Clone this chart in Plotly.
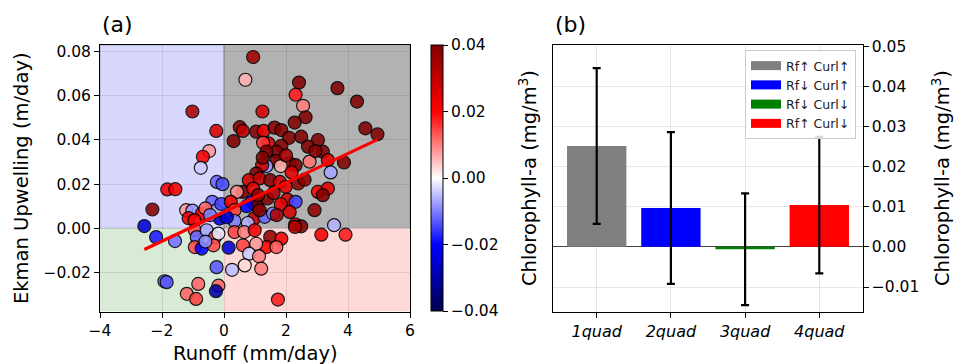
import plotly.graph_objects as go
import numpy as np

# ---------------- data: panel (a) ----------------
runoff = [
    -1.02, -0.25, -0.48, -0.68, -0.75, -0.23, -0.05, -1.83, -1.57, -2.31, -2.57, -0.38,
    -1.22, -1.02, -1.14, -0.71, -0.95, -0.14, -0.25, -0.09, -0.60, -0.45,
    -2.19, -1.58, -0.94, -0.88, -0.56, -0.29, -0.18, -0.94, -0.72, -0.34, -0.24, -1.92,
    -1.85, -0.83, -1.20, -0.90, -0.18, -0.26, -0.60,
    0.94, 0.69, 2.42, 2.31, 2.55, 2.63, 3.66, 4.29, 4.56, 4.95, 1.24, 2.28, 0.51, 0.61,
    0.31, 1.04, 1.28, 1.63, 1.85, 1.43, 1.26, 2.10, 2.49, 3.03, 2.71, 3.19, 1.85, 1.69,
    1.37, 2.76, 3.35, 3.87, 3.44, 1.69, 2.12, 2.31, 1.37, 1.23, 1.83, 2.18, 1.04, 0.80,
    1.15, 1.49, 1.80, 2.39, 1.99, 0.61, 0.94, 0.42, 3.03, 3.35, 3.19, 1.40, 2.04, 2.31,
    1.83, 0.90, 1.06, 0.22, 0.34, 2.12, 2.92, 0.97, 1.31, 1.58, 1.15, 0.77, 0.34, 2.30,
    2.49, 3.55, 0.09, 0.73, 1.60, 2.60, 2.00, 1.10, 1.70, 1.25, 2.95,
    0.34, 0.65, 0.99, 1.49, 1.85, 3.14, 3.92, 0.15, 0.61, 1.37, 1.69, 1.04, 0.81, 1.13,
    0.67, 0.26, 1.20, 1.74, 2.29,
]
ekman = [
    0.0529, 0.0441, 0.0350, 0.0324, 0.0274, 0.0210, 0.0200, 0.0176, 0.0177, 0.0085, 0.0010, 0.0120,
    0.0082, 0.0080, 0.0046, 0.0067, 0.0036, 0.0044, 0.0080, 0.0110, 0.0090, 0.0060,
    -0.0040, -0.0058, -0.0009, -0.0040, -0.0009, -0.0040, -0.0024, -0.0085, -0.0092, -0.0077, -0.0176, -0.0240,
    -0.0244, -0.0252, -0.0297, -0.0320, -0.0260, -0.0285, -0.0060,
    0.0776, 0.0673, 0.0660, 0.0605, 0.0555, 0.0503, 0.0635, 0.0574, 0.0453, 0.0426, 0.0529, 0.0479, 0.0458, 0.0441,
    0.0395, 0.0438, 0.0441, 0.0456, 0.0445, 0.0385, 0.0388, 0.0410, 0.0415, 0.0400, 0.0370, 0.0347, 0.0374, 0.0347,
    0.0347, 0.0302, 0.0309, 0.0298, 0.0253, 0.0305, 0.0294, 0.0286, 0.0282, 0.0286, 0.0282, 0.0253, 0.0248, 0.0218,
    0.0226, 0.0218, 0.0210, 0.0203, 0.0188, 0.0165, 0.0180, 0.0165, 0.0165, 0.0180, 0.0150, 0.0135, 0.0130, 0.0120,
    0.0109, 0.0120, 0.0100, 0.0120, 0.0082, 0.0074, 0.0082, 0.0044, 0.0052, 0.0067, 0.0082, 0.0024, 0.0033, 0.0018,
    0.0009, 0.0014, 0.0050, 0.0100, 0.0160, 0.0220, 0.0330, 0.0150, 0.0060, 0.0320, 0.0350,
    -0.0017, -0.0017, -0.0009, -0.0039, -0.0047, -0.0029, -0.0029, -0.0088, -0.0077, -0.0085, -0.0085, -0.0070, -0.0115, -0.0127,
    -0.0168, -0.0188, -0.0183, -0.0323, 0.0006,
]
chl_anom = [
    0.033, 0.026, 0.008, 0.021, -0.004, -0.012, -0.014, 0.022, 0.022, 0.039, -0.024, -0.012,
    0.008, -0.008, 0.022, 0.020, 0.020, -0.025, -0.006, -0.015, 0.012, -0.010,
    -0.018, -0.011, 0.014, -0.012, -0.007, 0.014, -0.002, 0.014, -0.020, 0.014, -0.013, -0.012,
    -0.013, 0.012, 0.012, 0.015, 0.012, -0.030, -0.009,
    0.034, 0.006, 0.039, 0.018, 0.010, 0.040, 0.040, 0.040, 0.040, 0.040, 0.027, 0.040, 0.038, 0.030,
    0.040, 0.039, 0.024, 0.039, 0.039, 0.027, 0.016, 0.039, 0.040, 0.040, 0.040, 0.040, 0.039, 0.039,
    0.039, 0.011, 0.024, 0.040, -0.007, 0.039, 0.027, 0.040, -0.008, 0.027, 0.006, 0.024, 0.039, 0.027,
    0.029, 0.039, 0.027, 0.037, 0.024, 0.040, 0.024, 0.009, 0.020, 0.024, 0.039, 0.039, 0.027, -0.015,
    0.024, -0.020, 0.039, 0.022, 0.015, 0.027, 0.037, 0.029, -0.012, -0.010, 0.039, -0.006, -0.010, 0.027,
    0.039, -0.006, -0.025, -0.020, 0.033, 0.038, 0.033, 0.038, 0.033, 0.039, 0.039,
    0.015, 0.010, 0.022, 0.037, 0.022, 0.022, 0.018, -0.025, 0.015, 0.020, 0.013, 0.008, -0.004, 0.010,
    0.003, -0.005, 0.010, 0.018, 0.032,
]
fit_slope = 0.00662
fit_intercept = 0.0074

# ---------------- data: panel (b) ----------------
quads = ["1quad", "2quad", "3quad", "4quad"]
chl_mean = [0.0251, 0.0097, -0.0006, 0.0104]
chl_err = [0.0194, 0.0189, 0.0139, 0.0170]
quad_labels = ["Rf↑ Curl↑", "Rf↓ Curl↑", "Rf↓ Curl↓", "Rf↑ Curl↓"]
quad_colors = ["#808080", "#0000ff", "#008000", "#ff0000"]

FONT = "DejaVu Sans"
W, H = 954, 364

seismic = [[0.0, "rgb(0,0,77)"], [0.25, "rgb(0,0,255)"], [0.5, "rgb(255,255,255)"],
           [0.75, "rgb(255,0,0)"], [1.0, "rgb(128,0,0)"]]

fig = go.Figure()

fig.add_trace(go.Scatter(
    x=runoff, y=ekman, mode="markers", xaxis="x", yaxis="y", showlegend=False,
    marker=dict(size=13, color=chl_anom, colorscale=seismic, cmin=-0.04, cmax=0.04,
                opacity=0.88,
                line=dict(color="black", width=1.2),
                colorbar=dict(x=431 / W, xanchor="left", xpad=0, ypad=0,
                              y=1 - 311 / H, yanchor="bottom", len=266, lenmode="pixels",
                              thickness=12, thicknessmode="pixels",
                              outlinewidth=1, outlinecolor="black",
                              ticks="outside", ticklen=5, tickcolor="black",
                              tickvals=[-0.04, -0.02, 0.0, 0.02, 0.04], tickformat=".2f",
                              tickfont=dict(family=FONT, size=15.5, color="black"))),
))

xs = np.array([min(runoff), max(runoff)])
fig.add_trace(go.Scatter(
    x=xs, y=fit_intercept + fit_slope * xs, mode="lines", xaxis="x", yaxis="y",
    line=dict(color="#ff0000", width=3.2), showlegend=False,
))

# panel (b) bars
fig.add_trace(go.Bar(
    x=quads, y=chl_mean, xaxis="x2", yaxis="y2", width=0.8, showlegend=False,
    marker=dict(color=quad_colors, line=dict(width=0)),
    error_y=dict(type="data", array=chl_err, color="black", thickness=2.2, width=4),
))
for lab, col in zip(quad_labels, quad_colors):
    fig.add_trace(go.Scatter(x=[None], y=[None], mode="lines", name=lab,
                             xaxis="x2", yaxis="y2", line=dict(color=col, width=9)))

dom_y = [1 - 311.5 / H, 1 - 45.3 / H]
grid = "rgba(0,0,0,0.09)"
axis_common = dict(showline=True, linecolor="black", linewidth=1, mirror=True,
                   ticks="outside", ticklen=5, tickcolor="black", zeroline=False,
                   showgrid=True, gridcolor=grid, gridwidth=1, automargin=False,
                   tickfont=dict(family=FONT, size=15.5, color="black"))

fig.update_layout(
    width=W, height=H, margin=dict(l=0, r=0, t=0, b=0, autoexpand=False),
    paper_bgcolor="white", plot_bgcolor="white",
    font=dict(family=FONT, color="black"),
    xaxis=dict(domain=[100 / W, 410 / W], range=[-4, 6], tickvals=[-4, -2, 0, 2, 4, 6],
               anchor="y", **axis_common),
    yaxis=dict(domain=dom_y, range=[-0.0377, 0.0829], tickvals=[-0.02, 0, 0.02, 0.04, 0.06, 0.08],
               tickformat=".2f", anchor="x", **axis_common),
    xaxis2=dict(domain=[552.7 / W, 862.7 / W], range=[-0.593, 3.585], type="category",
                tickvals=quads, ticktext=["<i>%s</i>" % q for q in quads], anchor="y2",
                **{**axis_common, "tickfont": dict(family=FONT, size=16, color="black")}),
    yaxis2=dict(domain=dom_y, range=[-0.0161, 0.0502], tickvals=[-0.01, 0, 0.01, 0.02, 0.03, 0.04, 0.05],
                tickformat=".2f", side="right", anchor="x2",
                **{**axis_common, "zeroline": True, "zerolinecolor": "#444", "zerolinewidth": 1}),
    legend=dict(x=856 / W, xanchor="right", y=1 - 50 / H, yanchor="top",
                bgcolor="rgba(255,255,255,0.85)", bordercolor="#cccccc", borderwidth=1,
                font=dict(family=FONT, size=12.5, color="#222"), itemwidth=30,
                tracegroupgap=0),
    shapes=[
        dict(type="rect", xref="x", yref="y", x0=-4, x1=0, y0=0, y1=0.0829, layer="below",
             fillcolor="rgb(216,216,255)", line=dict(color="rgba(120,120,170,0.6)", width=1)),
        dict(type="rect", xref="x", yref="y", x0=0, x1=6, y0=0, y1=0.0829, layer="below",
             fillcolor="rgb(178,178,178)", line=dict(color="rgba(120,120,150,0.6)", width=1)),
        dict(type="rect", xref="x", yref="y", x0=-4, x1=0, y0=-0.0377, y1=0, layer="below",
             fillcolor="rgb(217,234,214)", line=dict(width=0)),
        dict(type="rect", xref="x", yref="y", x0=0, x1=6, y0=-0.0377, y1=0, layer="below",
             fillcolor="rgb(255,216,216)", line=dict(width=0)),
    ],
    annotations=[
        dict(text="(a)", x=100 / W, y=1 - 25 / H, xref="paper", yref="paper", xanchor="left",
             yanchor="middle", showarrow=False, font=dict(family=FONT, size=22)),
        dict(text="(b)", x=553 / W, y=1 - 25 / H, xref="paper", yref="paper", xanchor="left",
             yanchor="middle", showarrow=False, font=dict(family=FONT, size=22)),
        dict(text="Runoff (mm/day)", x=255 / W, y=1 - 353 / H, xref="paper", yref="paper",
             xanchor="center", yanchor="middle", showarrow=False, font=dict(family=FONT, size=19.5)),
        dict(text="Ekman Upwelling (m/day)", x=21 / W, y=1 - 178 / H, xref="paper", yref="paper",
             xanchor="center", yanchor="middle", textangle=-90, showarrow=False,
             font=dict(family=FONT, size=19.5)),
        dict(text="Chlorophyll-a (mg/m<sup>3</sup>)", x=528 / W, y=1 - 178 / H, xref="paper", yref="paper",
             xanchor="center", yanchor="middle", textangle=-90, showarrow=False,
             font=dict(family=FONT, size=19.5)),
        dict(text="Chlorophyll-a (mg/m<sup>3</sup>)", x=941 / W, y=1 - 178 / H, xref="paper", yref="paper",
             xanchor="center", yanchor="middle", textangle=-90, showarrow=False,
             font=dict(family=FONT, size=19.5)),
    ],
)

fig.write_html("out.html")
